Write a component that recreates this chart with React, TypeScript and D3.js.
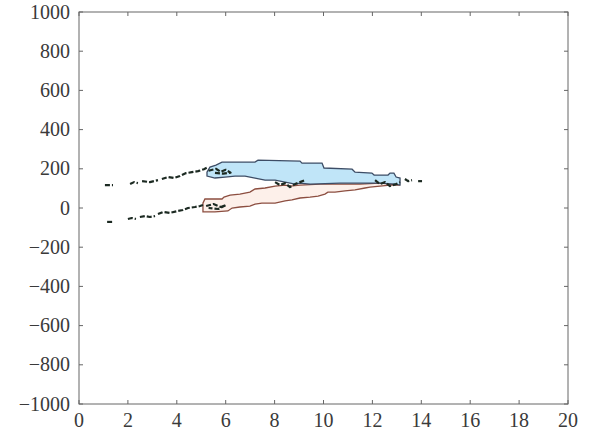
import React from "react";
import * as d3 from "d3";

const W = 594;
const H = 435;

const xTicks = [0, 2, 4, 6, 8, 10, 12, 14, 16, 18, 20];
const yTicks = [-1000, -800, -600, -400, -200, 0, 200, 400, 600, 800, 1000];

// Upper (blue) band
const blueTop: [number, number][] = [
  [5.235, 183], [5.358, 209], [5.603, 219], [5.849, 234], [7.198, 234], [7.321, 244],
  [9.04, 239], [9.12, 229], [9.94, 229], [10.02, 204], [11.17, 198], [11.29, 183],
  [11.98, 178], [12.07, 168], [12.64, 168], [12.72, 178], [12.88, 178], [12.97, 158],
  [13.13, 153], [13.13, 117],
];
const blueBottom: [number, number][] = [
  [13.13, 117], [12.92, 122], [12.31, 127], [11.49, 127], [10.67, 127], [9.45, 122],
  [9.04, 127], [8.84, 122], [8.43, 132], [8.02, 142], [7.61, 142], [7.2, 153],
  [6.79, 163], [6.38, 163], [5.97, 158], [5.56, 153], [5.235, 163], [5.235, 183],
];

// Lower (pink) band
const pinkTop: [number, number][] = [
  [5.07, 25], [5.15, 46], [5.56, 46], [5.85, 46], [5.93, 56], [6.18, 66], [6.58, 71],
  [6.99, 81], [7.2, 97], [7.61, 102], [8.02, 112], [8.43, 117], [8.63, 112], [9.04, 117],
  [9.86, 122], [10.67, 122], [11.49, 122], [12.31, 127], [12.92, 122], [13.13, 117],
];
const pinkBottom: [number, number][] = [
  [13.13, 117], [12.72, 117], [12.31, 112], [11.9, 107], [11.7, 102], [11.29, 92],
  [10.88, 87], [10.47, 81], [10.18, 81], [10.06, 71], [9.78, 61], [9.45, 56], [9.04, 51],
  [8.71, 41], [8.43, 36], [8.02, 25], [7.48, 25], [7.2, 20], [6.99, 10], [6.58, 5],
  [6.26, 0], [6.09, -15], [5.56, -20], [5.07, -20], [5.07, 25],
];

// Scattered dark fragments
const fragments: [number, number][][] = [
  [[1.06, 117], [1.39, 117]],
  [[2.09, 122], [2.25, 132], [2.41, 127]],
  [[2.58, 137], [2.9, 132], [3.23, 142]],
  [[3.39, 148], [3.64, 158], [3.89, 153], [4.13, 163], [4.38, 178], [4.62, 183], [4.87, 188], [5.11, 198], [5.28, 209]],
  [[5.3, 190], [5.6, 200], [5.8, 185], [6.0, 195], [6.2, 180], [5.9, 175], [5.5, 180]],
  [[1.15, -71], [1.43, -71]],
  [[2.0, -56], [2.16, -51], [2.33, -56]],
  [[2.49, -46], [2.7, -41], [2.9, -46], [3.11, -41]],
  [[3.23, -31], [3.44, -20], [3.72, -25], [4.05, -15], [4.25, -10], [4.46, 0], [4.74, 5], [4.95, 10], [5.07, 15]],
  [[5.2, 10], [5.5, 20], [5.8, 5], [6.0, 15], [5.7, -5], [5.3, 0]],
  [[8.02, 132], [8.22, 117], [8.43, 127], [8.63, 107], [8.84, 122], [9.04, 132], [9.24, 142]],
  [[12.11, 142], [12.31, 122], [12.52, 132], [12.72, 112], [12.97, 122], [13.13, 132]],
  [[13.33, 148], [13.46, 137], [13.62, 142]],
  [[13.87, 137], [14.03, 137]],
];

const L = 79, R = 568, T = 12, B = 404;

export default function App() {
  const x = d3.scaleLinear().domain([0, 20]).range([L, R]);
  const y = d3.scaleLinear().domain([-1000, 1000]).range([B, T]);
  const line = d3.line<[number, number]>().x((d) => x(d[0])).y((d) => y(d[1]));
  const bluePoly = line([...blueTop, ...blueBottom]) + "Z";
  const pinkPoly = line([...pinkTop, ...pinkBottom]) + "Z";
  const font = "'Liberation Serif', 'DejaVu Serif', serif";
  const tl = 4;
  return (
    <svg width={W} height={H} style={{ position: "absolute", left: 0, top: 0, background: "#fff" }}>
      <path d={pinkPoly} fill="#fdf0ea" stroke="#8c4e40" strokeWidth={1.3} />
      <path d={bluePoly} fill="#c0e5f8" stroke="#3d4d66" strokeWidth={1.3} />
      {fragments.map((f, i) => (
        <path key={i} d={line(f) || ""} fill="none" stroke="#1c2a22" strokeWidth={2.2} strokeDasharray="5,2" strokeLinejoin="round" />
      ))}
      <rect x={L} y={T} width={R - L} height={B - T} fill="none" stroke="#666" strokeWidth={1} />
      {xTicks.map((t) => (
        <g key={"x" + t}>
          <line x1={x(t)} x2={x(t)} y1={B} y2={B - tl} stroke="#666" />
          <line x1={x(t)} x2={x(t)} y1={T} y2={T + tl} stroke="#666" />
          <text x={x(t)} y={427} textAnchor="middle" fontFamily={font} fontSize={20} fill="#3a3a3a">
            {t}
          </text>
        </g>
      ))}
      {yTicks.map((t) => (
        <g key={"y" + t}>
          <line x1={L} x2={L + tl} y1={y(t)} y2={y(t)} stroke="#666" />
          <line x1={R} x2={R - tl} y1={y(t)} y2={y(t)} stroke="#666" />
          <text x={70} y={y(t) + 6.5} textAnchor="end" fontFamily={font} fontSize={20} fill="#3a3a3a">
            {t < 0 ? "\u2212" + Math.abs(t) : t}
          </text>
        </g>
      ))}
    </svg>
  );
}
